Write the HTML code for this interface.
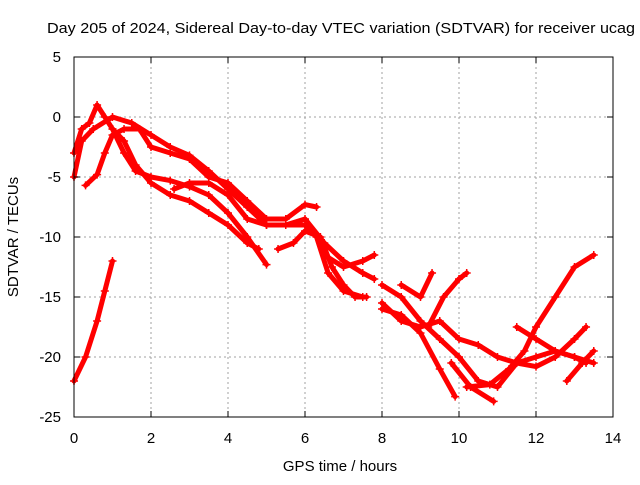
<!DOCTYPE html>
<html><head><meta charset="utf-8"><style>
body{margin:0;background:#fff}
svg text{font-family:"Liberation Sans",sans-serif;font-size:14px;fill:#000}
</style></head><body>
<svg id="c" width="640" height="480">
<text x="47" y="33" textLength="588" lengthAdjust="spacingAndGlyphs" style="font-size:15px">Day 205 of 2024, Sidereal Day-to-day VTEC variation (SDTVAR) for receiver ucag</text>
<text x="340" y="471" text-anchor="middle" style="font-size:15px">GPS time / hours</text>
<text transform="translate(18,237) rotate(-90)" text-anchor="middle" style="font-size:15px">SDTVAR / TECUs</text>
<g id="grid"></g><g id="series"></g><g id="axes"></g>
</svg>
<script>
const xTicks=[0,2,4,6,8,10,12,14];
const yTicks=[5,0,-5,-10,-15,-20,-25];
const s1=[[0,-22],[0.3,-20],[0.6,-17],[0.8,-14.5],[1.0,-12]];
const s2=[[0,-3],[0.2,-1],[0.4,-0.5],[0.6,1],[0.8,0],[1,-1],[1.3,-3],[1.6,-4.5],[2,-5],[2.5,-5.3],[3,-5.8],[3.5,-6.5],[4,-8],[4.5,-10],[5,-12.3]];
const s3=[[0,-5],[0.2,-2],[0.5,-1],[1,0],[1.5,-0.5],[2,-1.5],[2.5,-2.5],[3,-3.2],[3.5,-4.5],[4,-6],[4.5,-7.5],[5,-9],[5.5,-9],[6,-8.5],[6.5,-10.5],[7,-12],[7.5,-13],[7.8,-13.5]];
const s4=[[0.3,-5.7],[0.6,-4.8],[0.8,-3],[1,-1.5],[1.3,-1],[1.7,-1],[2,-2.5],[2.5,-3],[3,-3.5],[3.5,-5],[4,-5.5],[4.5,-7],[5,-8.5],[5.5,-8.5],[6,-7.3],[6.3,-7.5]];
const s5=[[1,-1],[1.3,-2],[1.6,-4],[2,-5.5],[2.5,-6.5],[3,-7],[3.5,-8],[4,-9],[4.5,-10.5],[4.8,-11]];
const s6=[[2.6,-6],[3,-5.5],[3.5,-5.5],[4,-6.5],[4.5,-8.5],[5,-9],[5.5,-9],[6,-9],[6.3,-10],[6.6,-13],[7,-14.5],[7.5,-15]];
const s7=[[5.3,-11],[5.7,-10.5],[6,-9.5],[6.4,-10],[6.7,-12.5],[7,-14],[7.3,-15],[7.6,-15]];
const s8=[[6.5,-11.5],[7,-12.5],[7.5,-12],[7.8,-11.5]];
const s9=[[8,-14],[8.5,-15],[9,-17],[9.5,-18.5],[10,-20],[10.5,-22],[11,-22.5],[11.5,-20.5],[12,-20],[12.5,-19.5],[13,-20],[13.3,-20.5]];
const s10=[[8,-16],[8.5,-16.5],[9,-18],[9.5,-21],[9.9,-23.3]];
const s11=[[8,-15.5],[8.5,-17],[9,-17.5],[9.5,-17],[10,-18.5],[10.5,-19],[11,-20],[11.5,-20.5],[12,-20.8],[12.5,-20],[13,-18.5],[13.3,-17.5]];
const s12=[[8.5,-14],[9,-15],[9.3,-13]];
const s13=[[9.2,-17.5],[9.6,-15],[10,-13.5],[10.2,-13]];
const s14=[[10.2,-22.5],[10.8,-22.3],[11.3,-21],[11.7,-19.5],[12,-17.5],[12.5,-15],[13,-12.5],[13.5,-11.5]];
const s15=[[11.5,-17.5],[12,-18.5],[12.5,-19.5],[13,-20],[13.5,-20.5]];
const s16=[[12.8,-22],[13.2,-20.5],[13.5,-19.5]];
const s17=[[9.8,-20.5],[10.3,-22.5],[10.9,-23.7]];
const allSeries=[s1,s2,s3,s4,s5,s6,s7,s8,s9,s10,s11,s12,s13,s14,s15,s16,s17];
const X0=74,X1=613,Y0=57,Y1=417;
const xs=v=>X0+(v-0)/(14-0)*(X1-X0);
const ys=v=>Y0+(5-v)/(5+25)*(Y1-Y0);
const NS="http://www.w3.org/2000/svg";
function mk(t,a,p){const e=document.createElementNS(NS,t);for(const k in a)e.setAttribute(k,a[k]);p.appendChild(e);return e;}
const grid=document.getElementById('grid'),axes=document.getElementById('axes'),ser=document.getElementById('series');
xTicks.forEach(t=>{const x=xs(t);
 if(t>0&&t<14){const g=mk('line',{x1:x,x2:x,y1:Y0,y2:Y1,stroke:'#a0a0a0','stroke-dasharray':'2,3'},grid);}
 const l=mk('text',{x:x,y:Y1+26,'text-anchor':'middle',style:'font-size:15px'},axes);l.textContent=t;
 
 
 mk('line',{x1:x,x2:x,y1:Y1,y2:Y1-6,stroke:'#000'},axes);mk('line',{x1:x,x2:x,y1:Y0,y2:Y0+6,stroke:'#000'},axes);});
yTicks.forEach(t=>{const y=ys(t);
 if(t<5&&t>-25){const g=mk('line',{x1:X0,x2:X1,y1:y,y2:y,stroke:'#a0a0a0','stroke-dasharray':'2,3'},grid);}
 const l=mk('text',{x:X0-13,y:y+5,'text-anchor':'end',style:'font-size:15px'},axes);l.textContent=t;
 
 
 mk('line',{x1:X0,x2:X0+6,y1:y,y2:y,stroke:'#000'},axes);mk('line',{x1:X1,x2:X1-6,y1:y,y2:y,stroke:'#000'},axes);});
const fr=mk('rect',{x:X0,y:Y0,width:X1-X0,height:Y1-Y0,fill:'none',stroke:'#000'},axes);


allSeries.forEach((s,i)=>{
 const g=mk('g',{},ser);
 
 
 mk('polyline',{points:s.map(p=>xs(p[0])+','+ys(p[1])).join(' '),fill:'none',stroke:'#ff0000','stroke-width':5,'stroke-linejoin':'round','stroke-linecap':'round'},g);
 s.forEach(p=>{const x=xs(p[0]),y=ys(p[1]);
  mk('path',{d:`M${x-4},${y}H${x+4}M${x},${y-4}V${y+4}`,stroke:'#ff0000','stroke-width':1.5},g);});
});
</script>
</body></html>
